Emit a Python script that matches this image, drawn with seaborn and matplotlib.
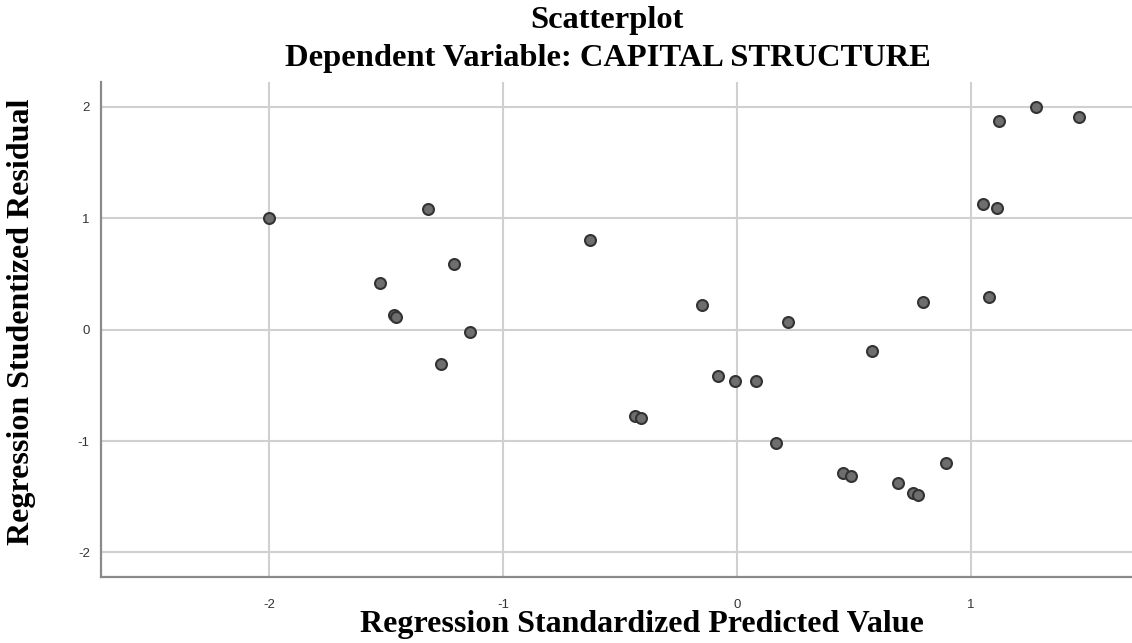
import matplotlib
matplotlib.use("Agg")
import matplotlib.pyplot as plt
import seaborn as sns
import pandas as pd

# standardized predicted value vs studentized residual
pred = [-2.00, -1.32, -1.21, -1.525, -1.466, -1.456, -1.142, -1.264,
        1.279, 1.123, 1.465, 1.054, 1.114, -0.63, -0.151, 0.795, 1.077, 0.217,
        0.576, -0.081, -0.010, 0.081, -0.437, -0.412, 0.166, 0.455, 0.488,
        0.69, 0.753, 0.775, 0.896]
resid = [1.00, 1.08, 0.59, 0.42, 0.126, 0.114, -0.024, -0.31,
         2.00, 1.866, 1.905, 1.13, 1.094, 0.807, 0.224, 0.245, 0.29, 0.066,
         -0.19, -0.42, -0.46, -0.46, -0.78, -0.79, -1.02, -1.29, -1.31,
         -1.38, -1.47, -1.48, -1.20]
xticks = [-2, -1, 0, 1]
yticks = [-2, -1, 0, 1, 2]

df = pd.DataFrame({"pred": pred, "resid": resid})

sns.set_style("white")
plt.rcParams["axes.unicode_minus"] = False
fig = plt.figure(figsize=(11.32, 6.43), dpi=100)
ax = fig.add_axes([0.0892, 0.1026, 0.9108, 0.7699])

sns.scatterplot(data=df, x="pred", y="resid", ax=ax, s=62,
                color="#6e6e6e", edgecolor="#333333", linewidth=1.5,
                zorder=3)

ax.set_xlim(-2.72, 1.69)
ax.set_ylim(-2.22, 2.22)
ax.set_xticks(xticks)
ax.set_yticks(yticks)
ax.grid(True, color="#d0d0d0", linewidth=1.5)
ax.set_axisbelow(True)

for s in ["top", "right"]:
    ax.spines[s].set_visible(False)
for s in ["left", "bottom"]:
    ax.spines[s].set_color("#8a8a8a")
    ax.spines[s].set_linewidth(1.6)

ax.tick_params(axis="both", length=4, width=1.2, color="#b0b0b0",
               labelsize=9.5, labelcolor="#333333")
ax.tick_params(axis="x", pad=12)
ax.tick_params(axis="y", pad=4)
for lab in ax.get_xticklabels() + ax.get_yticklabels():
    lab.set_family("Liberation Sans")

serif = "Liberation Serif"
ax.set_xlabel("Regression Standardized Predicted Value", fontsize=23,
              fontweight="bold", family=serif, va="center", color="black")
ax.set_ylabel("Regression Studentized Residual", fontsize=23,
              fontweight="bold", family=serif, va="center", color="black")
ax.xaxis.set_label_coords(0.525, -0.095)
ax.yaxis.set_label_coords(-0.0766, 0.515)

fig.text(0.536, 0.968, "Scatterplot", ha="center", va="center",
         fontsize=23.4, fontweight="bold", family=serif, color="black")
fig.text(0.537, 0.909, "Dependent Variable: CAPITAL STRUCTURE", ha="center",
         va="center", fontsize=23.4, fontweight="bold", family=serif,
         color="black")

fig.savefig("out.png", dpi=100)
